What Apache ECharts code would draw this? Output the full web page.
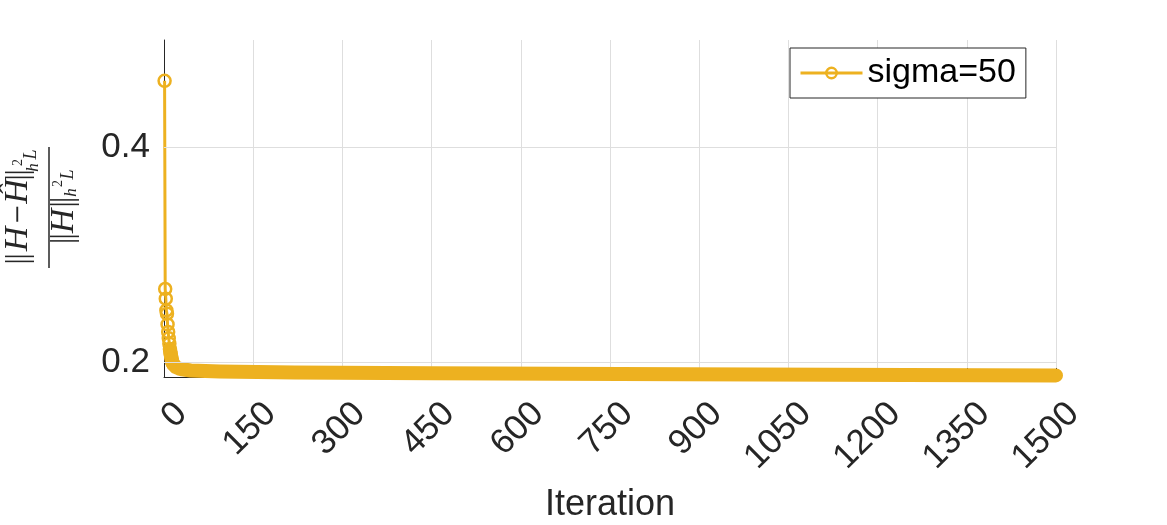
<!DOCTYPE html>
<html>
<head>
<meta charset="utf-8">
<script src="https://cdn.jsdelivr.net/npm/echarts@6/dist/echarts.min.js"></script>
<style>
  html, body { margin: 0; padding: 0; background: #fff; }
  #chart { width: 1167px; height: 525px; }
</style>
</head>
<body>
<div id="chart"></div>
<script>
// first iterations, drawn with open circle markers
const headIter = [1, 2, 3, 4, 5, 6, 7, 8, 9, 10, 11, 12, 13, 14, 15];
const headErr = [0.462, 0.268, 0.259, 0.248, 0.245, 0.235, 0.228, 0.222, 0.217, 0.212, 0.208, 0.205, 0.202, 0.200, 0.1985];
// the rest of the run: markers overlap into one thick band
const tailIter = [10, 12, 14, 16, 18, 20, 25, 30, 45, 94, 95, 220, 221, 450, 451, 873, 874, 1500];
const tailErr = [0.212, 0.205, 0.200, 0.1975, 0.1962, 0.1952, 0.1940, 0.1932, 0.1921, 0.1912, 0.1903, 0.1903, 0.1894, 0.1894, 0.1885, 0.1885, 0.1875, 0.1875];
const yTicks = [0.2, 0.4];
const seriesName = 'sigma=50';
const orange = '#EDB120';
const ink = '#262626';

const chart = echarts.init(document.getElementById('chart'));

const head = headIter.map((x, i) => [x, headErr[i]]);
const tail = tailIter.map((x, i) => [x, tailErr[i]]);

// y label: ||H - Ĥ||_{h^2_L} / ||H||_{h^2_L}, laid out horizontally then turned
const serif = 'Liberation Serif';
function glyph(text, x, y, size, italic, family) {
  return {
    type: 'text',
    style: {
      x: x, y: y, text: text, fontFamily: family || serif, fontSize: size,
      fontStyle: italic ? 'italic' : 'normal', fill: ink,
      align: 'center', verticalAlign: 'middle'
    }
  };
}
const yLabel = [
  { type: 'line', shape: { x1: -60.5, y1: 0, x2: 60.5, y2: 0 }, style: { stroke: ink, lineWidth: 1.5 } },
  glyph('|', -54, -30, 31), glyph('|', -49, -30, 31),
  glyph('H', -31.5, -30.5, 34, true),
  glyph('−', -7, -30, 24, false, 'DejaVu Serif'),
  glyph('Ĥ', 16, -30.5, 34, true),
  glyph('|', 30, -30, 31), glyph('|', 35, -30, 31),
  glyph('h', 40, -15, 17, true),
  glyph('2', 45, -31, 14),
  glyph('L', 53, -18, 18, true),
  glyph('|', -33.5, 15, 31), glyph('|', -29, 15, 31),
  glyph('H', -13.5, 15.5, 34, true),
  glyph('|', 3, 15, 31), glyph('|', 7.5, 15, 31),
  glyph('h', 15, 23, 17, true),
  glyph('2', 24, 9, 14),
  glyph('L', 33, 19, 18, true)
];

chart.setOption({
  animation: false,
  grid: { left: 164, right: 111, top: 40, bottom: 148, containLabel: false, outerBoundsMode: 'none' },
  legend: {
    data: [seriesName],
    left: 790, top: 48,
    width: 236, height: 50,
    padding: [8, 10, 8, 9],
    backgroundColor: '#fff',
    borderColor: ink, borderWidth: 1, borderRadius: 0,
    itemWidth: 62, itemHeight: 13,
    lineStyle: { width: 3 },
    itemStyle: { borderWidth: 2.5 },
    textStyle: { fontFamily: 'Liberation Sans', fontSize: 34, color: '#000' }
  },
  xAxis: {
    type: 'value', min: 0, max: 1500, interval: 150,
    name: 'Iteration', nameLocation: 'middle', nameGap: 110,
    nameTextStyle: { fontFamily: 'Liberation Sans', fontSize: 36, color: ink },
    axisLine: { show: true, onZero: false, lineStyle: { color: ink, width: 1 } },
    axisTick: { show: true, inside: true, length: 9, lineStyle: { color: ink } },
    axisLabel: {
      rotate: 45, margin: 14, verticalAlign: 'top', padding: [7, 0, 0, 0],
      fontFamily: 'Liberation Sans', fontSize: 35, color: ink,
      formatter: v => String(v)
    },
    splitLine: { show: true, lineStyle: { color: '#dedede', width: 1 } }
  },
  yAxis: {
    type: 'value', min: 0.186, max: 0.5,
    axisLine: { show: true, lineStyle: { color: ink, width: 1 } },
    axisTick: { show: true, inside: true, length: 9, customValues: yTicks, lineStyle: { color: ink } },
    axisLabel: { customValues: yTicks, margin: 14, fontFamily: 'Liberation Sans', fontSize: 35, color: ink, formatter: v => v.toFixed(1) },
    splitLine: { show: false }
  },
  series: [
    {
      name: 'grid-y', type: 'line', data: [], silent: true,
      markLine: {
        silent: true, symbol: 'none', label: { show: false },
        lineStyle: { color: '#dedede', width: 1, type: 'solid' },
        data: yTicks.map(v => ({ yAxis: v }))
      }
    },
    {
      name: seriesName + ' band', type: 'line', data: tail, showSymbol: false,
      lineStyle: { color: orange, width: 14, cap: 'round', join: 'round' },
      z: 3
    },
    {
      name: seriesName, type: 'line', data: head,
      symbol: 'circle', symbolSize: 12, showSymbol: true,
      itemStyle: { color: 'rgba(255,255,255,0)', borderColor: orange, borderWidth: 2.5 },
      lineStyle: { color: orange, width: 3 },
      z: 4
    }
  ],
  graphic: [
    { type: 'group', x: 49, y: 207.5, rotation: Math.PI / 2, children: yLabel }
  ]
});
</script>
</body>
</html>
